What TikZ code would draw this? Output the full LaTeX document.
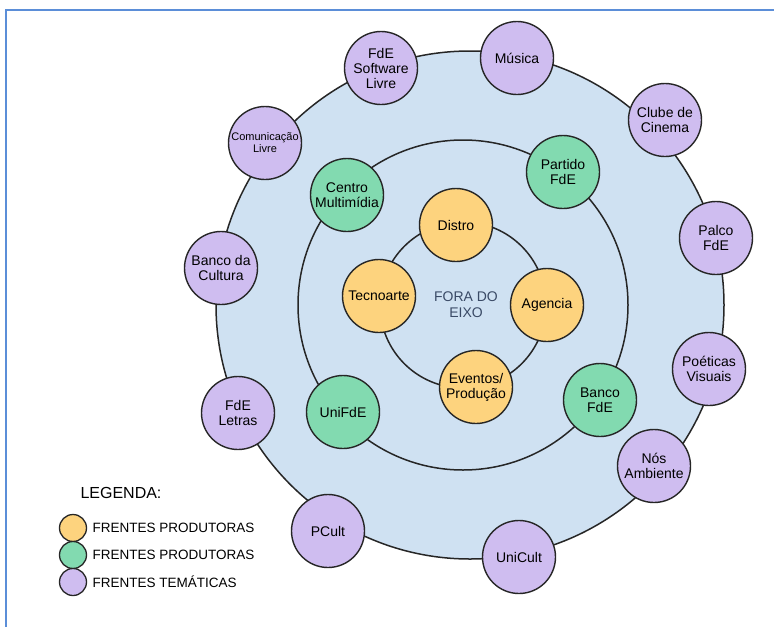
\documentclass[tikz,border=0pt]{standalone}
\usepackage{fontspec}
\setmainfont{Liberation Sans}
\usepackage{xcolor}
\usepackage{tikz}
\usetikzlibrary{positioning}

\definecolor{ringblue}{HTML}{CFE1F2}
\definecolor{prodyellow}{HTML}{FDD37E}
\definecolor{prodgreen}{HTML}{82DAB0}
\definecolor{temapurple}{HTML}{CFBDF0}
\definecolor{framblue}{HTML}{5B8ED8}
\definecolor{eixotext}{HTML}{3A4A66}

\tikzset{
  frente/.style={circle, draw=black!85, line width=1.4pt, minimum size=73pt, inner sep=0pt, align=center,
    font=\fontsize{14}{15}\selectfont},
  produtora/.style={frente, fill=prodyellow},
  produtoragreen/.style={frente, fill=prodgreen},
  tematica/.style={frente, fill=temapurple},
  ring/.style={draw=black!85, line width=1.5pt},
  legendadot/.style={circle, draw=black!85, line width=1.3pt, minimum size=27pt, inner sep=0pt},
  legendatext/.style={anchor=west, font=\fontsize{13.5}{15}\selectfont}
}

\begin{document}
\begin{tikzpicture}[x=1pt, y=-1pt]
  \useasboundingbox (0,0) rectangle (774,627);
  \draw[framblue, line width=1.5pt] (774,10) -- (6,10) -- (6,627);

  % rings
  \coordinate (eixo) at (463,305);
  \fill[ringblue] (470,305) circle (254);
  \draw[ring] (470,305) circle (254);
  \draw[ring] (eixo) circle (165);
  \draw[ring] (eixo) circle (83);
  \node[text=eixotext, align=center, font=\fontsize{14}{16}\selectfont] (fora) at (466,305) {FORA DO\\EIXO};

  % frentes produtoras
  \node[produtora] (distro) at (456,225) {Distro};
  \node[produtora] (agencia) at (547,305) {Agencia};
  \node[produtora] (tecnoarte) at (379,296) {Tecnoarte};
  \node[produtora] (eventos) at (476,387) {Eventos/\\Produção};

  \node[produtoragreen] (centro) at (347,195) {Centro\\Multimídia};
  \node[produtoragreen] (partido) at (563,172) {Partido\\FdE};
  \node[produtoragreen] (bancofde) at (600,400) {Banco\\FdE};
  \node[produtoragreen] (unifde) at (343,412) {UniFdE};

  % frentes tematicas
  \node[tematica] (software) at (381,68) {FdE\\Software\\Livre};
  \node[tematica] (musica) at (517,58) {Música};
  \node[tematica] (clube) at (665,120) {Clube de\\Cinema};
  \node[tematica] (palco) at (716,238) {Palco\\FdE};
  \node[tematica] (poeticas) at (709,369) {Poéticas\\Visuais};
  \node[tematica] (nos) at (654,466) {Nós\\Ambiente};
  \node[tematica] (unicult) at (519,557) {UniCult};
  \node[tematica] (pcult) at (328,531) {PCult};
  \node[tematica] (letras) at (238,413) {FdE\\Letras};
  \node[tematica] (cultura) at (221,268) {Banco da\\Cultura};
  \node[tematica, font=\fontsize{11}{12}\selectfont] (comunicacao) at (265,143) {Comunicação\\Livre};

  % legenda
  \node[anchor=west, font=\fontsize{16}{17}\selectfont] (legenda) at (77,493) {LEGENDA:};
  \node[legendadot, fill=prodyellow] (dotyellow) at (73,528) {};
  \node[legendadot, fill=prodgreen] (dotgreen) at (73,555) {};
  \node[legendadot, fill=temapurple] (dotpurple) at (73,582) {};
  \node[legendatext] (txtyellow) at (89,528) {FRENTES PRODUTORAS};
  \node[legendatext] (txtgreen) at (89,555) {FRENTES PRODUTORAS};
  \node[legendatext] (txtpurple) at (89,582) {FRENTES TEMÁTICAS};
\end{tikzpicture}
\end{document}
